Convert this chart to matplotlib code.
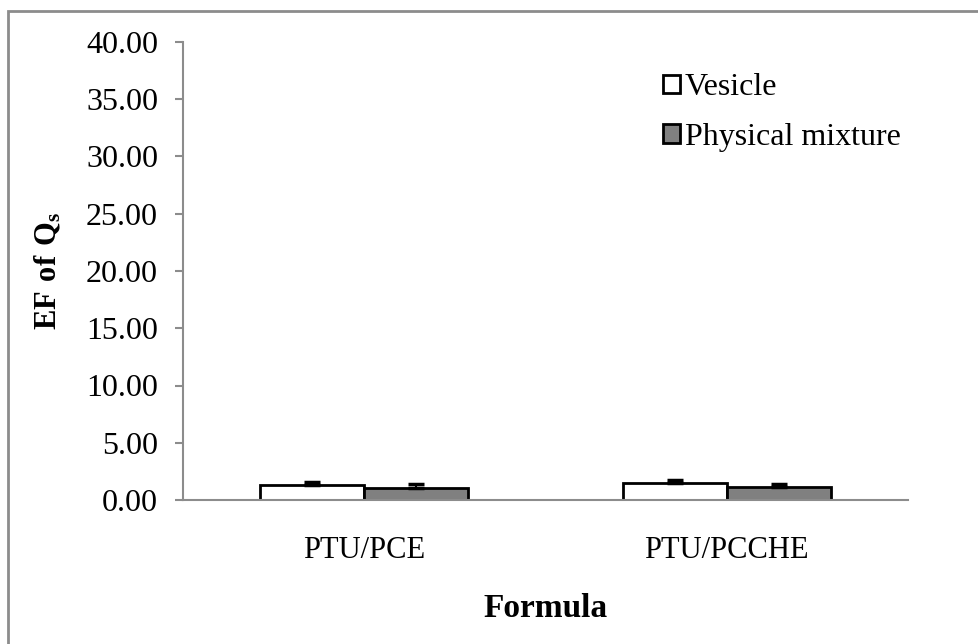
import numpy as np
import matplotlib.pyplot as plt
from matplotlib.patches import Rectangle

formulas = ['PTU/PCE', 'PTU/PCCHE']
vesicle = [1.31, 1.46]
vesicle_err = [0.27, 0.30]
physical = [1.05, 1.11]
physical_err = [0.35, 0.29]

plt.rcParams['font.family'] = ['Liberation Serif', 'DejaVu Serif']
plt.rcParams['mathtext.fontset'] = 'custom'
plt.rcParams['mathtext.rm'] = 'Liberation Serif'
plt.rcParams['mathtext.bf'] = 'Liberation Serif:bold'

fig = plt.figure(figsize=(9.79, 6.44), dpi=100)
ax = fig.add_axes([183/979, 1-500/644, (908-183)/979, (500-42)/644])

# chart frame (top and left edges only visible)
fig.patches.append(Rectangle((8/979, -0.1), 1.2, 1.1 - 11/644,
                             transform=fig.transFigure, fill=False,
                             edgecolor='#8c8c8c', linewidth=2))

x = np.arange(len(formulas))
w = 0.287
ax.bar(x - w/2, vesicle, w, color='white', edgecolor='black', linewidth=2,
       label='Vesicle', zorder=2)
ax.bar(x + w/2, physical, w, color='#808080', edgecolor='black', linewidth=2,
       label='Physical mixture', zorder=2)
ax.errorbar(x - w/2, vesicle, yerr=[[0]*2, vesicle_err], fmt='none',
            ecolor='black', elinewidth=1.5, capsize=6, capthick=2.5, zorder=3)
ax.errorbar(x + w/2, physical, yerr=[[0]*2, physical_err], fmt='none',
            ecolor='black', elinewidth=1.5, capsize=6, capthick=2.5, zorder=3)

ax.set_xlim(-0.5, 1.5)
ax.set_ylim(0, 40)
ax.set_yticks(np.arange(0, 41, 5))
ax.set_yticklabels([f'{v:.2f}' for v in np.arange(0, 41, 5)], fontsize=23)
ax.set_xticks(x)
ax.set_xticklabels(formulas, fontsize=22)
ax.tick_params(axis='x', length=0, pad=26)
ax.tick_params(axis='y', length=6, color='#8c8c8c', width=1.5, pad=12)

for s in ['top', 'right']:
    ax.spines[s].set_visible(False)
for s in ['left', 'bottom']:
    ax.spines[s].set_color('#8c8c8c')
    ax.spines[s].set_linewidth(1.5)

ax.set_ylabel(r'$\mathbf{EF\ of\ Q_s}$', fontsize=22, labelpad=16)
ax.set_xlabel('Formula', fontsize=24, fontweight='bold', labelpad=20)

ax.legend(loc='upper left', bbox_to_anchor=(0.644, 0.96), frameon=False,
          fontsize=23, handlelength=0.55, handleheight=0.5, handletextpad=0.15,
          labelspacing=0.65, borderaxespad=0)

fig.savefig('out.png', dpi=100)
